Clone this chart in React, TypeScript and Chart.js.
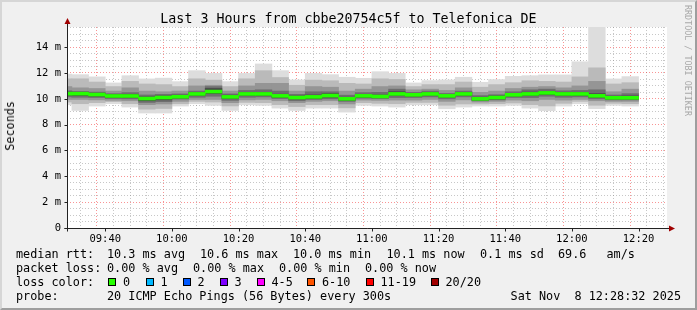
import React, { useEffect, useRef } from "react";
import { Chart, registerables } from "chart.js";

Chart.register(...registerables);

// ---- time range of the graph ----
const RANGE_START = "09:28:32";
const RANGE_END = "12:28:32";
const STEP_MINUTES = 5;

// end time of each 5-minute step (rrd step value covers the 5 min before)
const barEnds = [
  "09:30", "09:35", "09:40", "09:45", "09:50", "09:55",
  "10:00", "10:05", "10:10", "10:15", "10:20", "10:25",
  "10:30", "10:35", "10:40", "10:45", "10:50", "10:55",
  "11:00", "11:05", "11:10", "11:15", "11:20", "11:25",
  "11:30", "11:35", "11:40", "11:45", "11:50", "11:55",
  "12:00", "12:05", "12:10", "12:15", "12:20",
];

// median rtt (ms)
const median = [
  10.40, 10.40, 10.33, 10.22, 10.22, 10.02, 10.10, 10.16, 10.38, 10.56, 10.15, 10.38,
  10.38, 10.23, 10.10, 10.15, 10.25, 10.00, 10.23, 10.18, 10.38, 10.31, 10.38, 10.23,
  10.38, 10.00, 10.10, 10.31, 10.38, 10.46, 10.38, 10.38, 10.23, 10.08, 10.08,
];

// outer smoke: slowest / fastest ping (ms)
const pingMax = [
  11.92, 11.87, 11.70, 11.23, 11.79, 11.54, 11.60, 11.33, 12.18, 11.97, 11.33, 11.97,
  12.70, 12.18, 11.46, 11.97, 11.87, 11.67, 11.59, 12.10, 11.97, 11.23, 11.41, 11.46,
  11.67, 11.28, 11.49, 11.74, 11.79, 11.85, 11.85, 12.87, 15.56, 11.54, 11.72,
];
const pingMin = [
  9.54, 9.10, 9.44, 9.62, 9.36, 8.90, 8.90, 9.44, 9.62, 9.49, 9.10, 9.54,
  9.49, 9.28, 9.10, 9.28, 9.28, 8.97, 9.49, 9.44, 9.36, 9.54, 9.54, 9.23,
  9.36, 9.44, 9.44, 9.49, 9.28, 9.08, 9.44, 9.62, 9.23, 9.49, 9.44,
];

// inner smoke bands (ms)
const band2Hi = [
  11.55, 11.55, 11.30, 10.95, 11.35, 11.15, 11.10, 10.95, 11.55, 11.45, 10.95, 11.55,
  12.18, 11.65, 11.05, 11.45, 11.40, 11.20, 11.15, 11.55, 11.50, 10.95, 11.10, 11.10,
  11.30, 10.90, 11.10, 11.25, 11.40, 11.35, 11.30, 11.70, 12.40, 11.15, 11.25,
];
const band2Lo = [
  9.75, 9.62, 9.70, 9.78, 9.62, 9.20, 9.25, 9.62, 9.80, 9.75, 9.45, 9.72,
  9.70, 9.55, 9.40, 9.55, 9.55, 9.30, 9.70, 9.65, 9.62, 9.72, 9.72, 9.50,
  9.60, 9.60, 9.62, 9.68, 9.55, 9.45, 9.65, 9.80, 9.50, 9.65, 9.62,
];
const band3Hi = [
  10.95, 10.85, 10.80, 10.60, 10.85, 10.60, 10.55, 10.60, 11.00, 11.05, 10.60, 11.00,
  11.20, 11.20, 10.60, 10.95, 10.90, 10.60, 10.75, 10.95, 11.00, 10.70, 10.75, 10.65,
  10.85, 10.50, 10.60, 10.80, 10.90, 10.95, 10.85, 11.00, 11.35, 10.55, 10.75,
];
const band3Lo = [
  9.95, 9.95, 9.92, 9.88, 9.85, 9.55, 9.60, 9.80, 9.95, 9.95, 9.70, 9.92,
  9.95, 9.85, 9.70, 9.80, 9.85, 9.60, 9.90, 9.88, 9.90, 9.90, 9.95, 9.80,
  9.92, 9.75, 9.80, 9.90, 9.85, 9.95, 9.90, 9.95, 9.85, 9.80, 9.80,
];
const band4Hi = [
  10.62, 10.58, 10.52, 10.40, 10.48, 10.30, 10.35, 10.38, 10.60, 10.95, 10.38, 10.65,
  10.70, 10.60, 10.35, 10.55, 10.55, 10.28, 10.48, 10.50, 10.75, 10.50, 10.60, 10.42,
  10.60, 10.25, 10.32, 10.55, 10.70, 10.75, 10.62, 10.65, 10.70, 10.30, 10.40,
];
const band4Lo = [
  10.15, 10.12, 10.10, 10.02, 10.00, 9.72, 9.78, 9.98, 10.12, 10.20, 9.88, 10.12,
  10.15, 10.02, 9.85, 9.95, 10.00, 9.80, 10.05, 10.02, 10.10, 10.10, 10.15, 10.00,
  10.15, 9.85, 9.92, 10.10, 10.10, 10.20, 10.12, 10.15, 10.00, 9.92, 9.92,
];
const band5Hi = [
  10.52, 10.50, 10.44, 10.33, 10.35, 10.15, 10.22, 10.28, 10.50, 10.80, 10.28, 10.50,
  10.50, 10.36, 10.22, 10.30, 10.40, 10.12, 10.35, 10.30, 10.55, 10.42, 10.50, 10.35,
  10.50, 10.12, 10.22, 10.42, 10.52, 10.58, 10.50, 10.50, 10.40, 10.20, 10.22,
];
const band5Lo = [
  10.28, 10.25, 10.20, 10.10, 10.10, 9.85, 9.92, 10.05, 10.25, 10.40, 10.02, 10.25,
  10.25, 10.10, 9.98, 10.02, 10.12, 9.88, 10.10, 10.08, 10.25, 10.20, 10.28, 10.12,
  10.25, 9.90, 9.98, 10.20, 10.25, 10.32, 10.25, 10.25, 10.10, 9.98, 9.98,
];

// half thickness of the median marker (ms)
const MEDIAN_HALF = 0.115;

const lossLegend = [
  { label: "0", color: "#26ff00", x: 108 },
  { label: "1", color: "#00b8ff", x: 145.5 },
  { label: "2", color: "#0059ff", x: 182.5 },
  { label: "3", color: "#7e00ff", x: 219.5 },
  { label: "4-5", color: "#ff00ff", x: 256.5 },
  { label: "6-10", color: "#ff5500", x: 307 },
  { label: "11-19", color: "#ff0000", x: 365.5 },
  { label: "20/20", color: "#a10000", x: 430.5 },
];

const FONT = "'DejaVu Sans Mono', monospace";
const MAJOR_GRID = "rgba(240,0,0,0.42)";
const MINOR_GRID = "rgba(130,130,130,0.45)";

function toMinutes(t: string): number {
  const [h, m, s] = t.split(":").map(Number);
  return h * 60 + m + (s || 0) / 60;
}
function fmtTime(m: number): string {
  const h = Math.floor(m / 60);
  const mm = Math.round(m - h * 60);
  return `${String(h).padStart(2, "0")}:${String(mm).padStart(2, "0")}`;
}

const framePlugin = {
  id: "rrdFrame",
  beforeDraw(chart: any) {
    const { ctx, chartArea: a } = chart;
    ctx.save();
    ctx.fillStyle = "#ffffff";
    ctx.fillRect(a.left, a.top, a.right - a.left, a.bottom - a.top);
    ctx.restore();
  },
  afterDraw(chart: any) {
    const { ctx, chartArea: a, scales } = chart;
    const x0 = Math.round(a.left) + 0.5;
    const y0 = Math.round(a.bottom) + 0.5;
    ctx.save();
    ctx.strokeStyle = "#222";
    ctx.lineWidth = 1;
    // major tick marks
    ctx.beginPath();
    for (const t of scales.y.ticks) {
      if (t.value % 2 === 0) {
        const py = Math.round(scales.y.getPixelForValue(t.value)) + 0.5;
        ctx.moveTo(x0 - 3, py);
        ctx.lineTo(x0, py);
      }
    }
    for (const t of scales.x.ticks) {
      if (t.value % 20 === 0) {
        const px = Math.round(scales.x.getPixelForValue(t.value)) + 0.5;
        ctx.moveTo(px, y0);
        ctx.lineTo(px, y0 + 3);
      }
    }
    ctx.stroke();
    // axes
    ctx.beginPath();
    ctx.moveTo(x0, y0 + 3);
    ctx.lineTo(x0, a.top - 4);
    ctx.moveTo(x0 - 3, y0);
    ctx.lineTo(a.right + 4, y0);
    ctx.stroke();
    // arrows
    ctx.fillStyle = "#a00000";
    ctx.beginPath();
    ctx.moveTo(x0, a.top - 9);
    ctx.lineTo(x0 - 3, a.top - 3);
    ctx.lineTo(x0 + 3, a.top - 3);
    ctx.closePath();
    ctx.fill();
    ctx.beginPath();
    ctx.moveTo(a.right + 8, y0);
    ctx.lineTo(a.right + 2, y0 - 3);
    ctx.lineTo(a.right + 2, y0 + 3);
    ctx.closePath();
    ctx.fill();
    ctx.restore();
  },
};

export default function App() {
  const canvasRef = useRef<HTMLCanvasElement | null>(null);

  useEffect(() => {
    const canvas = canvasRef.current;
    if (!canvas) return;
    const xMin = toMinutes(RANGE_START);
    const xMax = toMinutes(RANGE_END);
    const yMax = Math.max(...pingMax);

    const pts = (lo: number[], hi: number[]) =>
      barEnds.map((t, i) => ({ x: toMinutes(t) - STEP_MINUTES / 2, y: [lo[i], hi[i]] }));
    const medLo = median.map((v) => v - MEDIAN_HALF);
    const medHi = median.map((v) => v + MEDIAN_HALF);
    const layer = (label: string, lo: number[], hi: number[], color: string) => ({
      label,
      data: pts(lo, hi),
      backgroundColor: color,
      borderWidth: 0,
      barPercentage: 1,
      categoryPercentage: 1,
      grouped: false,
    });

    const chart = new Chart(canvas, {
      type: "bar",
      data: {
        datasets: [
          layer("median rtt", medLo, medHi, "#26ff00"),
          layer("smoke 5", band5Lo, band5Hi, "#474747"),
          layer("smoke 4", band4Lo, band4Hi, "#6e6e6e"),
          layer("smoke 3", band3Lo, band3Hi, "#959595"),
          layer("smoke 2", band2Lo, band2Hi, "#bababa"),
          layer("smoke 1", pingMin, pingMax, "#dddddd"),
        ] as any,
      },
      options: {
        responsive: false,
        animation: false,
        devicePixelRatio: 1,
        layout: { padding: { left: 0, right: 30, top: 27, bottom: 0 } },
        plugins: {
          legend: { display: false },
          tooltip: { enabled: false },
          title: { display: false },
        },
        scales: {
          x: {
            type: "linear",
            min: xMin,
            max: xMax,
            bounds: "data",
            offset: false,
            afterBuildTicks: (s: any) => {
              const t: any[] = [];
              for (let v = Math.ceil(xMin / STEP_MINUTES) * STEP_MINUTES; v <= xMax; v += STEP_MINUTES) t.push({ value: v });
              s.ticks = t;
            },
            afterFit: (s: any) => {
              s.height = 82;
            },
            grid: {
              color: (c: any) => (c.tick && c.tick.value % 20 === 0 ? MAJOR_GRID : MINOR_GRID),
              lineWidth: 1,
              drawTicks: false,
            },
            border: { display: false, dash: [1, 2] },
            ticks: {
              autoSkip: false,
              maxRotation: 0,
              padding: 5,
              color: "#000",
              font: { family: FONT, size: 10.5 },
              callback: (v: any) => (Number(v) % 20 === 0 ? fmtTime(Number(v)) : ""),
            },
          },
          y: {
            type: "linear",
            min: 0,
            max: yMax,
            bounds: "data",
            afterBuildTicks: (s: any) => {
              const t: any[] = [];
              for (let v = 0; v <= yMax; v += 0.5) t.push({ value: v });
              s.ticks = t;
            },
            afterFit: (s: any) => {
              s.width = 67;
            },
            grid: {
              color: (c: any) => (c.tick && c.tick.value % 2 === 0 ? MAJOR_GRID : MINOR_GRID),
              lineWidth: 1,
              drawTicks: false,
            },
            border: { display: false, dash: [1, 2] },
            ticks: {
              autoSkip: false,
              padding: 6,
              color: "#000",
              font: { family: FONT, size: 10.5 },
              callback: (v: any) => {
                const n = Number(v);
                if (n % 2 !== 0) return "";
                return n === 0 ? "0" : `${n} m`;
              },
            },
          },
        },
      } as any,
      plugins: [framePlugin],
    });
    return () => chart.destroy();
  }, []);

  const textBase: React.CSSProperties = {
    position: "absolute",
    fontFamily: FONT,
    fontSize: "11.8px",
    lineHeight: "14px",
    whiteSpace: "pre",
    color: "#000",
  };
  const seg = (text: string, x: number, y: number) => (
    <span key={text + x + y} style={{ ...textBase, left: x, top: y }}>
      {text}
    </span>
  );

  return (
    <div
      style={{
        position: "absolute",
        left: 0,
        top: 0,
        width: 697,
        height: 310,
        background: "#f0f0f0",
        overflow: "hidden",
      }}
    >
      <canvas ref={canvasRef} width={697} height={310} style={{ position: "absolute", left: 0, top: 0 }} />
      <div
        style={{
          position: "absolute",
          left: 0,
          top: 11,
          width: 697,
          textAlign: "center",
          fontFamily: FONT,
          fontSize: "13.3px",
          lineHeight: "16px",
          whiteSpace: "pre",
          color: "#000",
        }}
      >
        Last 3 Hours from cbbe20754c5f to Telefonica DE
      </div>
      <div
        style={{
          position: "absolute",
          left: 3,
          top: 101,
          fontFamily: FONT,
          fontSize: "11.8px",
          lineHeight: "14px",
          writingMode: "vertical-rl",
          transform: "rotate(180deg)",
          color: "#000",
        }}
      >
        Seconds
      </div>
      <div
        style={{
          position: "absolute",
          left: 683,
          top: 5,
          fontFamily: FONT,
          fontSize: "8.4px",
          lineHeight: "10px",
          writingMode: "vertical-rl",
          whiteSpace: "pre",
          color: "#a8a8a8",
        }}
      >
        RRDTOOL / TOBI OETIKER
      </div>

      {seg("median rtt:", 16, 247)}
      {seg("10.3 ms avg", 107, 247)}
      {seg("10.6 ms max", 200, 247)}
      {seg("10.0 ms min", 293, 247)}
      {seg("10.1 ms now", 386.5, 247)}
      {seg("0.1 ms sd", 480, 247)}
      {seg("69.6", 558, 247)}
      {seg("am/s", 606.5, 247)}

      {seg("packet loss:", 16, 261)}
      {seg("0.00 % avg", 107, 261)}
      {seg("0.00 % max", 193, 261)}
      {seg("0.00 % min", 279, 261)}
      {seg("0.00 % now", 365, 261)}

      {seg("loss color:", 16, 275)}
      {lossLegend.map((l) => (
        <React.Fragment key={l.label}>
          <span
            style={{
              position: "absolute",
              left: l.x,
              top: 278,
              width: 8,
              height: 8,
              boxSizing: "border-box",
              border: "1px solid #000",
              background: l.color,
            }}
          />
          {seg(l.label, l.x + 15, 275)}
        </React.Fragment>
      ))}

      {seg("probe:", 16, 289)}
      {seg("20 ICMP Echo Pings (56 Bytes) every 300s", 107, 289)}
      <span style={{ ...textBase, right: 16, top: 289 }}>Sat Nov  8 12:28:32 2025</span>

      <div
        style={{
          position: "absolute",
          left: 0,
          top: 0,
          width: 697,
          height: 310,
          boxSizing: "border-box",
          borderTop: "2px solid #d6d6d6",
          borderLeft: "2px solid #d6d6d6",
          borderBottom: "2px solid #9e9e9e",
          borderRight: "2px solid #9e9e9e",
          pointerEvents: "none",
        }}
      />
    </div>
  );
}
